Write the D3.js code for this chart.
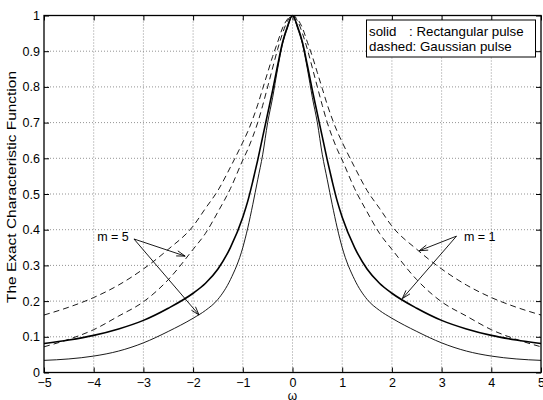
<!DOCTYPE html>
<html>
<head>
<meta charset="utf-8">
<script src="https://cdn.jsdelivr.net/npm/d3@7"></script>
<style>
  body { margin: 0; background: #fff; }
  svg { display: block; font-family: "Liberation Sans", Arial, sans-serif; }
  .grid line { stroke: #777; stroke-width: 0.8; stroke-dasharray: 1,2; }
  .tick-lbl { font-size: 12.5px; fill: #000; }
</style>
</head>
<body>
<svg id="chart" width="543" height="400"></svg>
<script>
// omega values (x) shared by all curves
const omega = [-5, -4.5, -4, -3.5, -3, -2.5, -2, -1.75, -1.5, -1.25, -1,
    -0.9, -0.8, -0.7, -0.6, -0.5, -0.4, -0.3, -0.2, -0.1, 0,
    0.1, 0.2, 0.3, 0.4, 0.5, 0.6, 0.7, 0.8, 0.9,
    1, 1.25, 1.5, 1.75, 2, 2.5, 3, 3.5, 4, 4.5, 5];

// solid thick: rectangular pulse, m = 1
const rectM1 = [0.081, 0.091, 0.104, 0.122, 0.146, 0.18, 0.222, 0.25, 0.29, 0.35, 0.435,
    0.48, 0.535, 0.595, 0.66, 0.725, 0.79, 0.86, 0.925, 0.97, 1,
    0.97, 0.925, 0.86, 0.79, 0.725, 0.66, 0.595, 0.535, 0.48,
    0.435, 0.35, 0.29, 0.25, 0.222, 0.18, 0.146, 0.122, 0.104, 0.091, 0.081];

// solid thin: rectangular pulse, m = 5
const rectM5 = [0.034, 0.038, 0.046, 0.06, 0.083, 0.115, 0.152, 0.174, 0.205, 0.26, 0.35,
    0.405, 0.47, 0.54, 0.61, 0.7, 0.77, 0.85, 0.92, 0.965, 1,
    0.965, 0.92, 0.85, 0.77, 0.7, 0.61, 0.54, 0.47, 0.405,
    0.35, 0.26, 0.205, 0.174, 0.152, 0.115, 0.083, 0.06, 0.046, 0.038, 0.034];

// dashed outer: gaussian pulse, m = 1
const gaussM1 = [0.161, 0.183, 0.21, 0.245, 0.29, 0.345, 0.41, 0.46, 0.51, 0.575, 0.645,
    0.675, 0.71, 0.75, 0.795, 0.84, 0.885, 0.925, 0.965, 0.99, 1,
    0.99, 0.965, 0.925, 0.885, 0.84, 0.795, 0.75, 0.71, 0.675,
    0.645, 0.575, 0.51, 0.46, 0.41, 0.345, 0.29, 0.245, 0.21, 0.183, 0.161];

// dashed inner: gaussian pulse, m = 5
const gaussM5 = [0.072, 0.093, 0.12, 0.158, 0.198, 0.26, 0.345, 0.39, 0.45, 0.515, 0.595,
    0.625, 0.66, 0.7, 0.748, 0.8, 0.853, 0.905, 0.95, 0.985, 1,
    0.985, 0.95, 0.905, 0.853, 0.8, 0.748, 0.7, 0.66, 0.625,
    0.595, 0.515, 0.45, 0.39, 0.345, 0.26, 0.198, 0.158, 0.12, 0.093, 0.072];

const xTicks = [-5, -4, -3, -2, -1, 0, 1, 2, 3, 4, 5];
const yTicks = [0, 0.1, 0.2, 0.3, 0.4, 0.5, 0.6, 0.7, 0.8, 0.9, 1];

// annotation arrows: label, label anchor, arrow start, arrow tips (data units)
const notes = [
    { label: "m = 5", at: [-3.93, 0.368], from: [-3.19, 0.374], tips: [[-2.16, 0.326], [-1.88, 0.161]] },
    { label: "m = 1", at: [3.45, 0.368], from: [3.3, 0.382], tips: [[2.55, 0.341], [2.21, 0.207]] }
];

const svg = d3.select("#chart");
const pLeft = 44, pRight = 541, pTop = 15.5, pBottom = 372.5;

const x = d3.scaleLinear().domain([-5, 5]).range([pLeft, pRight]);
const y = d3.scaleLinear().domain([0, 1]).range([pBottom, pTop]);

// Grid
const grid = svg.append("g").attr("class", "grid");
grid.selectAll(".gx")
    .data(xTicks.slice(1, -1))
    .enter().append("line")
    .attr("x1", d => x(d)).attr("x2", d => x(d))
    .attr("y1", pTop).attr("y2", pBottom);
grid.selectAll(".gy")
    .data(yTicks.slice(1, -1))
    .enter().append("line")
    .attr("y1", d => y(d)).attr("y2", d => y(d))
    .attr("x1", pLeft).attr("x2", pRight);

// Axes (MATLAB style: ticks inside, on all four sides)
const fmt = d3.format("~g");
const tickLen = 5;

svg.append("g")
    .attr("transform", `translate(0,${pBottom})`)
    .call(d3.axisBottom(x).tickValues(xTicks).tickFormat(fmt).tickSizeInner(-tickLen).tickSizeOuter(0).tickPadding(6));
svg.append("g")
    .attr("transform", `translate(${pLeft},0)`)
    .call(d3.axisLeft(y).tickValues(yTicks).tickFormat(fmt).tickSizeInner(-tickLen).tickSizeOuter(0).tickPadding(4));
svg.append("g")
    .attr("transform", `translate(0,${pTop})`)
    .call(d3.axisTop(x).tickValues(xTicks).tickFormat("").tickSizeInner(-tickLen).tickSizeOuter(0));
svg.append("g")
    .attr("transform", `translate(${pRight},0)`)
    .call(d3.axisRight(y).tickValues(yTicks).tickFormat("").tickSizeInner(-tickLen).tickSizeOuter(0));

svg.selectAll(".domain").remove();
svg.selectAll(".tick line").attr("stroke", "#000").attr("stroke-width", 1);
svg.selectAll(".tick text")
    .attr("class", "tick-lbl")
    .attr("font-family", null).attr("font-size", null);

// frame
svg.append("rect")
    .attr("x", pLeft).attr("y", pTop)
    .attr("width", pRight - pLeft).attr("height", pBottom - pTop)
    .attr("fill", "none").attr("stroke", "#000").attr("stroke-width", 1.3);

// Curves
const line = d3.line()
    .x(d => x(d[0]))
    .y(d => y(d[1]))
    .curve(d3.curveMonotoneX);

const series = [
    { values: gaussM1, width: 0.9, dash: "6,4" },
    { values: gaussM5, width: 0.9, dash: "6,4" },
    { values: rectM5, width: 0.9, dash: null },
    { values: rectM1, width: 1.6, dash: null }
];

svg.append("g").selectAll("path")
    .data(series)
    .enter().append("path")
    .attr("d", s => line(omega.map((w, i) => [w, s.values[i]])))
    .attr("fill", "none")
    .attr("stroke", "#000")
    .attr("stroke-width", s => s.width)
    .attr("stroke-dasharray", s => s.dash);

// Annotations
const ann = svg.append("g");
notes.forEach(n => {
    ann.append("text")
        .attr("x", x(n.at[0])).attr("y", y(n.at[1]))
        .attr("font-size", 12.5)
        .text(n.label);
    n.tips.forEach(t => {
        const x0 = x(n.from[0]), y0 = y(n.from[1]);
        const x1 = x(t[0]), y1 = y(t[1]);
        ann.append("line")
            .attr("x1", x0).attr("y1", y0).attr("x2", x1).attr("y2", y1)
            .attr("stroke", "#000").attr("stroke-width", 0.9);
        const a = Math.atan2(y1 - y0, x1 - x0);
        const len = 9, spread = 0.3;
        const p1 = [x1 - len * Math.cos(a - spread), y1 - len * Math.sin(a - spread)];
        const p2 = [x1 - len * Math.cos(a + spread), y1 - len * Math.sin(a + spread)];
        ann.append("path")
            .attr("d", `M${p1[0]},${p1[1]}L${x1},${y1}L${p2[0]},${p2[1]}`)
            .attr("fill", "none").attr("stroke", "#000").attr("stroke-width", 0.9);
    });
});

// Legend
const lg = svg.append("g").attr("font-size", 13.3);
lg.append("rect")
    .attr("x", 366.5).attr("y", 20).attr("width", 169).attr("height", 37)
    .attr("fill", "#fff").attr("stroke", "#000").attr("stroke-width", 1);
lg.append("text").attr("x", 369).attr("y", 36).text("solid");
lg.append("text").attr("x", 409).attr("y", 36).text(": Rectangular pulse");
lg.append("text").attr("x", 369).attr("y", 51).text("dashed: Gaussian pulse");

// Axis labels
svg.append("text")
    .attr("transform", "translate(16,187) rotate(-90)")
    .attr("text-anchor", "middle")
    .attr("font-size", 13)
    .attr("textLength", 232)
    .attr("lengthAdjust", "spacingAndGlyphs")
    .text("The Exact Characteristic Function");

svg.append("text")
    .attr("x", x(0)).attr("y", 400)
    .attr("text-anchor", "middle")
    .attr("font-size", 12)
    .text("ω");
</script>
</body>
</html>
